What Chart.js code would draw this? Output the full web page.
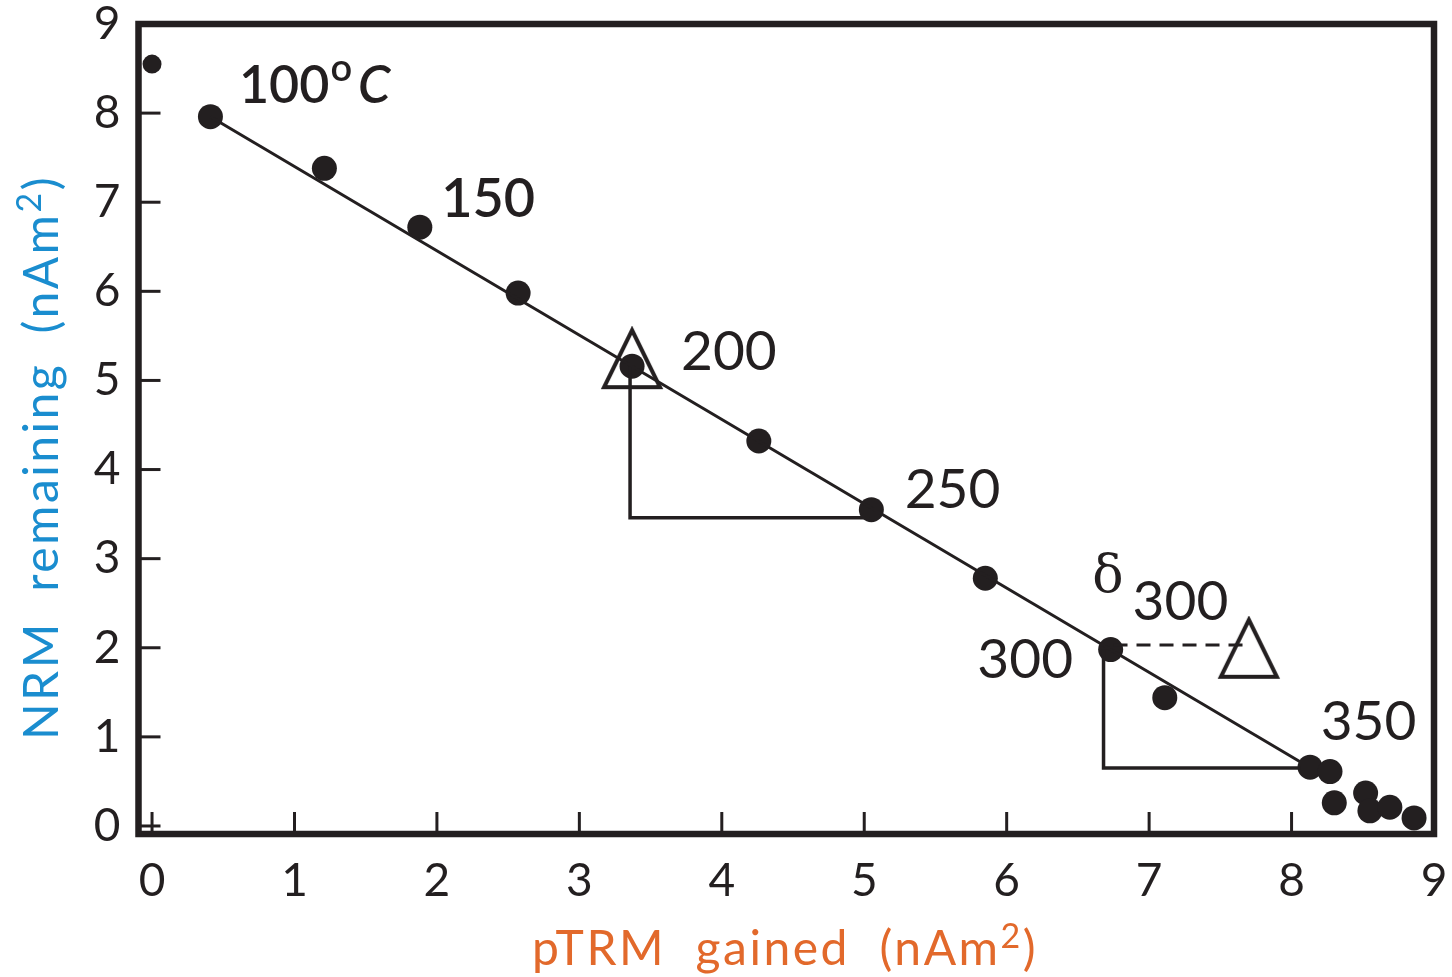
<!DOCTYPE html>
<html>
<head>
<meta charset="utf-8">
<script src="https://cdn.jsdelivr.net/npm/chart.js@4.4.1/dist/chart.umd.min.js"></script>
<style>
  html, body { margin: 0; padding: 0; background: #fff; }
  #wrap { width: 1452px; height: 977px; position: relative; }
</style>
</head>
<body>
<div id="wrap"><canvas id="c"></canvas></div>
<script>
// measured points (pTRM gained vs NRM remaining, nAm^2)
const ptrmGained   = [0, 0.41, 1.21, 1.88, 2.57, 3.37, 4.26, 5.05, 5.85, 6.73, 7.11, 8.13, 8.27, 8.30, 8.52, 8.55, 8.69, 8.86];
const nrmRemaining = [8.55, 7.96, 7.38, 6.72, 5.98, 5.16, 4.32, 3.55, 2.78, 1.98, 1.44, 0.66, 0.61, 0.26, 0.37, 0.17, 0.21, 0.09];

// best-fit line
const fitX = [0.41, 8.06];
const fitY = [7.96, 0.72];

// slope triangles
const step1X = [3.356, 3.356, 5.04];
const step1Y = [5.16, 3.46, 3.46];
const step2X = [6.68, 6.68, 8.06];
const step2Y = [1.98, 0.65, 0.65];

// pTRM check (dashed) and check markers
const checkX = [6.75, 7.69];
const checkY = [2.03, 2.03];
const markerX = [3.37, 7.70];
const markerY = [5.16, 1.91];

const xTicks = [0, 1, 2, 3, 4, 5, 6, 7, 8, 9];
const yTicks = [0, 1, 2, 3, 4, 5, 6, 7, 8, 9];

const ink = '#231f20';
const orange = '#e2692b';
const blue = '#1a8dcf';

const pts = (xs, ys) => xs.map((x, i) => ({ x: x, y: ys[i] }));

// open triangle marker (a bit narrower than equilateral)
const tri = document.createElement('canvas');
tri.width = 64; tri.height = 80;
(function () {
    const g = tri.getContext('2d');
    g.strokeStyle = ink;
    g.lineWidth = 4;
    g.lineJoin = 'miter';
    g.beginPath();
    g.moveTo(32, 4);
    g.lineTo(60, 61);
    g.lineTo(4, 61);
    g.closePath();
    g.stroke();
})();

const framePlugin = {
    id: 'frame',
    beforeDatasetsDraw(chart) {
        const ctx = chart.ctx, a = chart.chartArea;
        const xs = chart.scales.x, ys = chart.scales.y;
        ctx.save();
        ctx.strokeStyle = ink;
        ctx.lineWidth = 3;
        xTicks.forEach(v => {
            const px = xs.getPixelForValue(v);
            ctx.beginPath(); ctx.moveTo(px, a.bottom); ctx.lineTo(px, a.bottom - 22); ctx.stroke();
        });
        yTicks.forEach(v => {
            const py = ys.getPixelForValue(v);
            ctx.beginPath(); ctx.moveTo(a.left, py); ctx.lineTo(a.left + 22, py); ctx.stroke();
        });
        ctx.lineWidth = 6.5;
        ctx.lineJoin = 'miter';
        ctx.strokeRect(a.left, a.top, a.right - a.left, a.bottom - a.top);
        ctx.restore();
    }
};

function drawParts(ctx, parts, width) {
    // parts: [text, fontSize, raise]; spread letters so the run fills width
    let plain = 0, n = 0;
    ctx.letterSpacing = '0px';
    parts.forEach(p => {
        ctx.font = p[1] + 'px Lato';
        plain += ctx.measureText(p[0]).width;
        n += p[0].length;
    });
    const s = (width - plain) / n;
    ctx.letterSpacing = s + 'px';
    let x = 0;
    parts.forEach(p => {
        ctx.font = p[1] + 'px Lato';
        ctx.fillText(p[0], x, -p[2]);
        x += ctx.measureText(p[0]).width;
    });
    ctx.letterSpacing = '0px';
}

const textPlugin = {
    id: 'texts',
    afterDatasetsDraw(chart) {
        const ctx = chart.ctx;
        const xs = chart.scales.x, ys = chart.scales.y;
        const X = v => xs.getPixelForValue(v), Y = v => ys.getPixelForValue(v);
        ctx.save();
        ctx.fillStyle = ink;
        ctx.textBaseline = 'alphabetic';

        // 100oC
        ctx.textAlign = 'left';
        ctx.font = '600 52px Lato';
        let x0 = X(0.61), y0 = Y(8.115);
        ctx.fillText('100', x0, y0);
        x0 += ctx.measureText('100').width + 1;
        ctx.font = '600 38px Lato';
        ctx.fillText('o', x0, y0 - 22);
        x0 += ctx.measureText('o').width + 6;
        ctx.font = 'italic 600 52px Lato';
        ctx.fillText('C', x0, y0);

        ctx.textAlign = 'center';
        ctx.font = '600 54px Lato';
        ctx.fillText('150', X(2.36), Y(6.83));

        ctx.font = '55px Lato';
        ctx.fillText('200', X(4.05), Y(5.12));
        ctx.fillText('250', X(5.62), Y(3.57));
        ctx.fillText('300', X(6.13), Y(1.66));
        ctx.fillText('350', X(8.54), Y(0.965));
        ctx.fillText('300', X(7.22), Y(2.31));

        ctx.font = '52px "DejaVu Serif"';
        ctx.fillText('δ', X(6.71), Y(2.63));

        // axis titles
        ctx.textAlign = 'left';
        ctx.fillStyle = orange;
        ctx.save();
        ctx.translate(532, 965);
        drawParts(ctx, [['pTRM  gained  (nAm', 48, 0], ['2', 34, 17], [')', 48, 0]], 506);
        ctx.restore();

        ctx.fillStyle = blue;
        ctx.save();
        ctx.translate(58, 740);
        ctx.rotate(-Math.PI / 2);
        drawParts(ctx, [['NRM  remaining  (nAm', 48, 0], ['2', 34, 17], [')', 48, 0]], 565);
        ctx.restore();

        ctx.restore();
    }
};

const lineSet = (xs, ys, w, dash) => ({
    data: pts(xs, ys),
    showLine: true,
    borderColor: ink,
    borderWidth: w,
    borderDash: dash || [],
    pointRadius: 0,
    fill: false,
    clip: false
});

const noEdgePadding = s => {
    s.paddingLeft = 0; s.paddingRight = 0;
    s.paddingTop = 0; s.paddingBottom = 0;
};

new Chart(document.getElementById('c'), {
    type: 'scatter',
    data: {
        datasets: [
            lineSet(fitX, fitY, 3),
            lineSet(step1X, step1Y, 3.5),
            lineSet(step2X, step2Y, 3.5),
            lineSet(checkX, checkY, 3, [14, 9]),
            {
                data: pts(ptrmGained, nrmRemaining),
                backgroundColor: ink,
                borderWidth: 0,
                pointRadius: ptrmGained.map((v, i) => i === 0 ? 9.5 : 12.5),
                clip: false
            },
            {
                // image marker: radius only matters for layout overflow
                data: pts(markerX, markerY),
                pointStyle: tri,
                pointRadius: 1,
                borderWidth: 0,
                clip: false
            }
        ]
    },
    options: {
        responsive: true,
        maintainAspectRatio: false,
        animation: false,
        events: [],
        layout: { padding: { top: 24, right: 18, left: 0, bottom: 0 } },
        plugins: { legend: { display: false }, tooltip: { enabled: false } },
        scales: {
            x: {
                type: 'linear',
                min: -0.095,
                max: 9,
                afterBuildTicks: s => { s.ticks = xTicks.map(v => ({ value: v })); },
                afterFit: s => { s.height = 143; noEdgePadding(s); },
                grid: { display: false, drawTicks: false },
                border: { display: false },
                ticks: { color: ink, font: { family: 'Lato', size: 46 }, padding: 20 }
            },
            y: {
                type: 'linear',
                min: -0.09,
                max: 9,
                afterBuildTicks: s => { s.ticks = yTicks.map(v => ({ value: v })); },
                afterFit: s => { s.width = 138.5; noEdgePadding(s); },
                grid: { display: false, drawTicks: false },
                border: { display: false },
                ticks: { color: ink, font: { family: 'Lato', size: 46 }, padding: 18 }
            }
        }
    },
    plugins: [framePlugin, textPlugin]
});
</script>
</body>
</html>
